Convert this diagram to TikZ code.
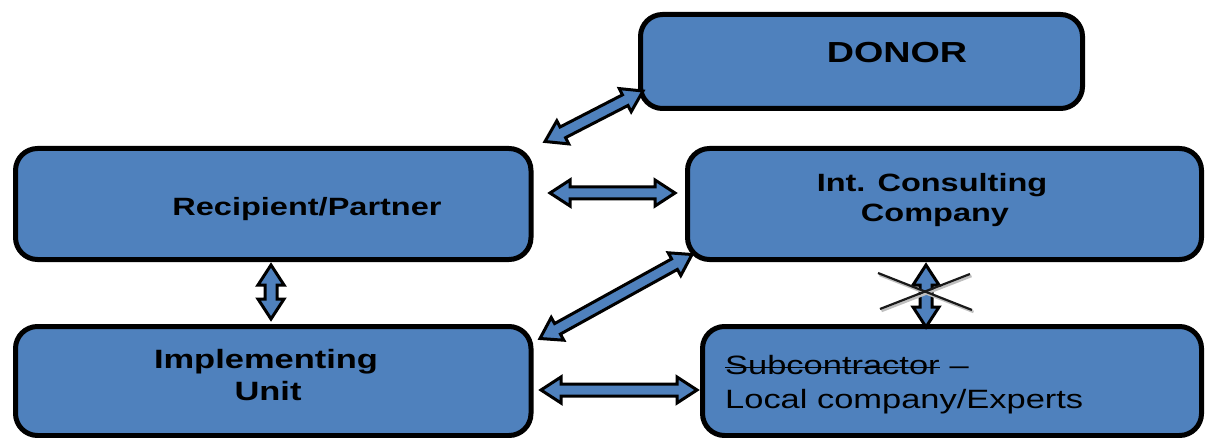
\documentclass[tikz,border=0pt]{standalone}
\usepackage{fontspec}
\usetikzlibrary{calc}
\newfontfamily\lbl[FakeStretch=1.3]{Liberation Sans}
\definecolor{boxblue}{HTML}{4F81BD}

% double-headed block arrow between two tip coordinates
\newcommand\blockarrow[2]{%
  \coordinate (ba-h1) at ($(#1)!20pt!(#2)$);
  \coordinate (ba-h2) at ($(#2)!20pt!(#1)$);
  \draw[arrowbody] (#1)
    -- ($(ba-h1)!13pt!90:(#2)$) -- ($(ba-h1)!6pt!90:(#2)$)
    -- ($(ba-h2)!6pt!-90:(#1)$) -- ($(ba-h2)!13pt!-90:(#1)$)
    -- (#2)
    -- ($(ba-h2)!13pt!90:(#1)$) -- ($(ba-h2)!6pt!90:(#1)$)
    -- ($(ba-h1)!6pt!-90:(#2)$) -- ($(ba-h1)!13pt!-90:(#2)$)
    -- cycle;}

\tikzset{
  box/.style={draw=black, fill=boxblue, line width=5pt, rounded corners=22pt,
    inner sep=0pt},
  arrowbody/.style={draw=black, fill=boxblue, line width=3pt, line join=miter},
  boldtext/.style={inner sep=0pt, anchor=base, font=\lbl\bfseries\fontsize{25}{30}\selectfont},
  plaintext/.style={inner sep=0pt, anchor=base west, font=\lbl\fontsize{26.5}{32}\selectfont},
  strike/.style={draw=black, line width=1.6pt},
  crossline/.style={draw=black!90, line width=2.2pt},
  crossshadow/.style={draw=black!25, line width=2.5pt},
}

\begin{document}
\begin{tikzpicture}[x=1pt, y=-1pt]
\useasboundingbox (0,0) rectangle (1206,438);

% boxes
\node[box, minimum width=442pt, minimum height=94pt] (donor) at (861.5,61.5) {};
\node[box, minimum width=515.5pt, minimum height=111pt] (recip) at (273.25,204) {};
\node[box, minimum width=514pt, minimum height=111pt] (intc) at (944.5,204) {};
\node[box, minimum width=515.5pt, minimum height=109pt] (impl) at (273.25,381) {};
\node[box, minimum width=499pt, minimum height=109pt] (sub) at (952,381) {};

% labels
\node[boldtext, font=\lbl\bfseries\fontsize{29}{34}\selectfont] (tdonor) at (897,63) {DONOR};
\node[boldtext] (trecip) at (307,215) {Recipient/Partner};
\node[boldtext] (tint1) at (932,192) {Int. Consulting};
\node[boldtext] (tint2) at (935,222) {Company};
\node[boldtext, font=\lbl\bfseries\fontsize{26.5}{32}\selectfont] (timpl1) at (266,368) {Implementing};
\node[boldtext, font=\lbl\bfseries\fontsize{26.5}{32}\selectfont] (timpl2) at (268,400) {Unit};
\node[plaintext] (tsubw) at (725,374) {Subcontractor};
\node[plaintext] (tdash) at ($(tsubw.base east)+(9.6,0)$) {–};
\node[plaintext] (tsub2) at (725,408) {Local company/Experts};
% struck-through word
\draw[strike] ($(tsubw.base west)+(0,-6.5)$) -- ($(tsubw.base east)+(0,-6.5)$);

% arrow tips
\coordinate (a1) at (545,141.5); \coordinate (b1) at (643,91);
\coordinate (a2) at (550,193);   \coordinate (b2) at (675,193);
\coordinate (a3) at (271,265);   \coordinate (b3) at (271,319);
\coordinate (a4) at (540,338.5); \coordinate (b4) at (692,254.5);
\coordinate (a5) at (541,390);   \coordinate (b5) at (697,390);
\coordinate (a6) at (926,265);   \coordinate (b6) at (926,327);

\blockarrow{a1}{b1}
\blockarrow{a2}{b2}
\blockarrow{a3}{b3}
\blockarrow{a4}{b4}
\blockarrow{a5}{b5}
\blockarrow{a6}{b6}

% crossed-out link
\coordinate (x1) at (878,273); \coordinate (x2) at (972,310);
\coordinate (x3) at (880,309); \coordinate (x4) at (970,274);
\draw[crossshadow] ($(x1)+(1.5,2)$) -- ($(x2)+(1.5,2)$);
\draw[crossshadow] ($(x3)+(1.5,2)$) -- ($(x4)+(1.5,2)$);
\draw[crossline] (x1) -- (x2);
\draw[crossline] (x3) -- (x4);
\end{tikzpicture}
\end{document}
